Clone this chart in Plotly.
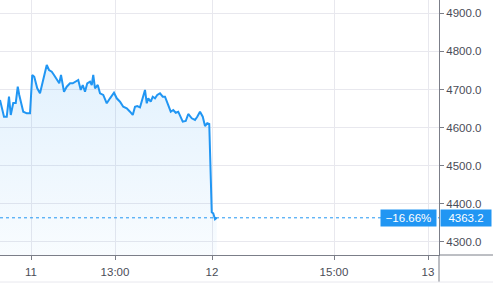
import plotly.graph_objects as go

# bar position (session bars) and close price
bars = [0, 0.7, 1.6, 2.7, 3.6, 4.3, 5.3, 6.3, 7.1, 7.7, 9.3, 10.7, 12, 12.9, 13.7, 14.9,
        16, 17.1, 18.7, 19.6, 20.7, 21.6, 22.7, 23.7, 24.4, 25.6, 26.7, 28, 29.1, 30,
        31.3, 32.3, 33.1, 34, 34.9, 36, 36.7, 37.3, 38, 39.1, 40, 41.3, 42.7, 44, 45.6,
        46.7, 48, 49.3, 50.7, 52, 53.1, 54, 54.9, 56, 57.1, 58, 58.7, 59.3, 60.3, 61.1,
        62, 62.9, 64, 65.1, 66, 67.3, 68.3, 69.3, 70.3, 71.3, 72, 73.1, 74.3, 75.3, 76.7,
        78, 78.9, 80, 81.1, 82, 82.9, 83.7, 84.7, 85.3, 86, 86.7]
prices = [4672.4, 4654.9, 4628.6, 4628.6, 4681.1, 4633.1, 4664.6, 4664.6, 4707.3, 4685.6,
          4641.7, 4637.5, 4637.5, 4738.1, 4733.6, 4703.1, 4690.0, 4720.5, 4764.3, 4751.2,
          4746.7, 4738.1, 4724.9, 4716.3, 4738.1, 4694.2, 4707.3, 4716.3, 4716.3, 4720.5,
          4724.9, 4698.7, 4711.8, 4694.2, 4716.3, 4720.5, 4711.8, 4738.1, 4703.1, 4711.8,
          4690.0, 4685.6, 4663.8, 4676.9, 4691.6, 4676.9, 4668.0, 4654.9, 4650.7, 4641.7,
          4633.1, 4654.9, 4656.7, 4653.3, 4681.1, 4698.7, 4663.8, 4676.9, 4668.0, 4681.1,
          4676.9, 4685.6, 4690.0, 4681.1, 4681.1, 4659.3, 4641.7, 4646.2, 4639.1, 4641.7,
          4633.1, 4615.5, 4617.3, 4635.7, 4624.4, 4620.0, 4628.6, 4641.7, 4628.6, 4604.2,
          4611.3, 4609.5, 4377.7, 4375.0, 4359.3, 4363.2]

tick_bars = [12.4, 46, 84.8, 133.6, 171.2]
tick_labels = ["11", "13:00", "12", "15:00", "13"]
price_ticks = [4300, 4400, 4500, 4600, 4700, 4800, 4900]
price_tick_labels = ["4300.0", "4400.0", "4500.0", "4600.0", "4700.0", "4800.0", "4900.0"]
last_price = 4363.2
last_label = "4363.2"
change_label = "\u221216.66%"

x_range = [0, 175.6]
y_range = [4265.6, 4934.9]

BLUE = "#2196f3"
GRID = "#e8e8ee"
AXIS = "#7b7e88"
TXT = "#4a4d57"
FONT = "Liberation Sans, Arial, sans-serif"
FS = 11.5

fig = go.Figure()
fig.add_trace(go.Scatter(
    x=bars, y=prices, mode="lines",
    line=dict(color=BLUE, width=2),
    fill="tozeroy",
    fillgradient=dict(type="vertical", start=y_range[0], stop=4765,
                      colorscale=[[0, "rgba(33,150,243,0.03)"], [1, "rgba(33,150,243,0.13)"]]),
    hoverinfo="skip",
))

fig.update_layout(
    width=493, height=286,
    margin=dict(l=0, r=54, t=0, b=31),
    paper_bgcolor="white", plot_bgcolor="white",
    showlegend=False,
    font=dict(family=FONT, size=FS, color=TXT),
    xaxis=dict(range=x_range, tickmode="array", tickvals=tick_bars, ticktext=tick_labels,
               showgrid=True, gridcolor=GRID, gridwidth=1, zeroline=False,
               showline=True, linecolor=AXIS, linewidth=1,
               ticks="outside", ticklen=4, tickcolor=AXIS, ticklabelstandoff=2,
               tickfont=dict(size=FS, color=TXT, family=FONT)),
    yaxis=dict(range=y_range, side="right", tickmode="array", tickvals=price_ticks,
               ticktext=price_tick_labels,
               showgrid=True, gridcolor=GRID, gridwidth=1, zeroline=False,
               showline=True, linecolor=AXIS, linewidth=1,
               ticks="outside", ticklen=4, tickcolor=AXIS,
               tickfont=dict(size=FS, color=TXT, family=FONT)),
)

# dotted last-price line
fig.add_shape(type="line", xref="paper", yref="y", x0=0, x1=1, y0=last_price, y1=last_price,
              line=dict(color=BLUE, width=1, dash="dot"), layer="above")
# vertical axis line extended below plot, bottom border, right border
fig.add_shape(type="line", xref="paper", yref="paper", x0=1, x1=1, y0=0, y1=-0.106,
              line=dict(color=AXIS, width=1))
fig.add_shape(type="line", xref="paper", yref="paper", x0=0, x1=1.123, y0=-0.106, y1=-0.106,
              line=dict(color=GRID, width=1))
fig.add_shape(type="line", xref="paper", yref="paper", x0=1, x1=1.123, y0=0, y1=0,
              line=dict(color=AXIS, width=1))

fig.add_annotation(xref="paper", yref="y", x=0.9955, y=last_price, xanchor="right", yanchor="middle",
                   text=change_label, showarrow=False, bgcolor=BLUE, borderpad=2, width=51,
                   font=dict(color="white", size=FS, family=FONT))
fig.add_annotation(xref="paper", yref="y", x=1.0025, y=last_price, xanchor="left", yanchor="middle",
                   text=last_label, showarrow=False, bgcolor=BLUE, borderpad=2, width=46,
                   font=dict(color="white", size=FS, family=FONT))

fig.write_html("out.html")
